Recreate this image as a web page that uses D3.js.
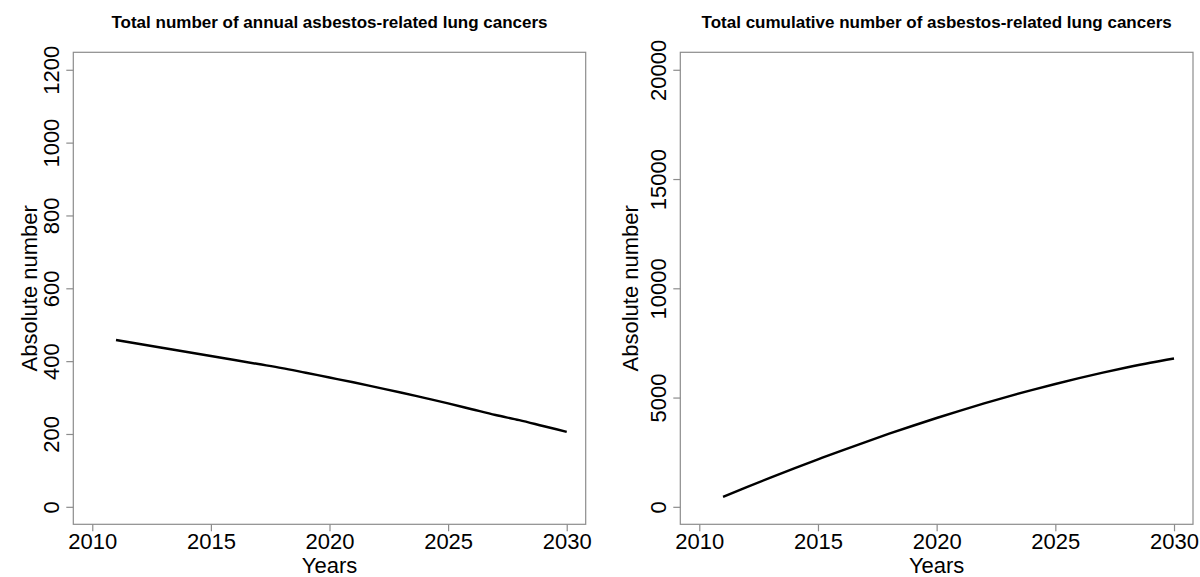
<!DOCTYPE html>
<html>
<head>
<meta charset="utf-8">
<script src="https://cdn.jsdelivr.net/npm/d3@7"></script>
<style>
  body { margin: 0; background: #fff; }
  text { font-family: "Liberation Sans", Arial, sans-serif; fill: #000; }
</style>
</head>
<body>
<div id="chart"></div>
<script>
// values
const years = [2011, 2012, 2013, 2014, 2015, 2016, 2017, 2018, 2019, 2020,
               2021, 2022, 2023, 2024, 2025, 2026, 2027, 2028, 2029, 2030];
const annual = [458, 447, 436, 425, 414, 403, 392, 381, 368, 355,
                342, 328, 314, 299, 284, 268, 252, 238, 222, 206];
const cumulative = [455, 900, 1335, 1760, 2170, 2575, 2965, 3345, 3710, 4065,
                    4405, 4730, 5045, 5340, 5620, 5890, 6140, 6375, 6595, 6790];
const xTicks = [2010, 2015, 2020, 2025, 2030];
const annualTicks = [0, 200, 400, 600, 800, 1000, 1200];
const cumulTicks = [0, 5000, 10000, 15000, 20000];
const titles = ['Total number of annual asbestos-related lung cancers',
                'Total cumulative number of asbestos-related lung cancers'];

const svg = d3.select('#chart').append('svg')
  .attr('width', 1200)
  .attr('height', 577);

// R style: 4% padding around the limits
function pad(lo, hi) {
  const d = (hi - lo) * 0.04;
  return [lo - d, hi + d];
}

function panel(left, right, values, yTicks, title, labelX) {
  const top = 52.3, bottom = 524.3;
  const x = d3.scaleLinear().domain(pad(2010, 2030)).range([left, right]);
  const y = d3.scaleLinear().domain(pad(yTicks[0], yTicks[yTicks.length - 1])).range([bottom, top]);

  svg.append('rect')
    .attr('x', left).attr('y', top)
    .attr('width', right - left).attr('height', bottom - top)
    .attr('fill', 'none').attr('stroke', '#8c8c8c').attr('stroke-width', 1.2);

  const gx = svg.append('g')
    .attr('transform', `translate(0,${bottom})`)
    .call(d3.axisBottom(x).tickValues(xTicks).tickSize(7).tickFormat(d3.format('d')));
  gx.select('.domain').remove();
  gx.selectAll('.tick line').attr('stroke', '#8c8c8c').attr('stroke-width', 1.2);
  gx.selectAll('.tick text')
    .attr('y', 25).attr('dy', 0)
    .style('font-size', '22px');

  const gy = svg.append('g')
    .attr('transform', `translate(${left},0)`)
    .call(d3.axisLeft(y).tickValues(yTicks).tickSize(7).tickFormat(d3.format('d')));
  gy.select('.domain').remove();
  gy.selectAll('.tick line').attr('stroke', '#8c8c8c').attr('stroke-width', 1.2);
  gy.selectAll('.tick text')
    .attr('transform', 'rotate(-90)')
    .attr('x', 0).attr('y', -14).attr('dy', 0)
    .attr('text-anchor', 'middle')
    .style('font-size', '22px');

  svg.append('path')
    .datum(years.map((yr, i) => [yr, values[i]]))
    .attr('fill', 'none')
    .attr('stroke', '#000')
    .attr('stroke-width', 2.4)
    .attr('d', d3.line().curve(d3.curveMonotoneX).x(d => x(d[0])).y(d => y(d[1])));

  svg.append('text')
    .attr('x', (left + right) / 2).attr('y', 28)
    .attr('text-anchor', 'middle')
    .style('font-weight', 'bold')
    .style('font-size', '17px')
    .text(title);

  svg.append('text')
    .attr('x', (left + right) / 2).attr('y', 573)
    .attr('text-anchor', 'middle')
    .style('font-size', '22px')
    .text('Years');

  svg.append('text')
    .attr('transform', `translate(${labelX},${(top + bottom) / 2}) rotate(-90)`)
    .attr('text-anchor', 'middle')
    .style('font-size', '22px')
    .text('Absolute number');
}

panel(73.3, 585.7, annual, annualTicks, titles[0], 37);
panel(680.3, 1193, cumulative, cumulTicks, titles[1], 638);
</script>
</body>
</html>
